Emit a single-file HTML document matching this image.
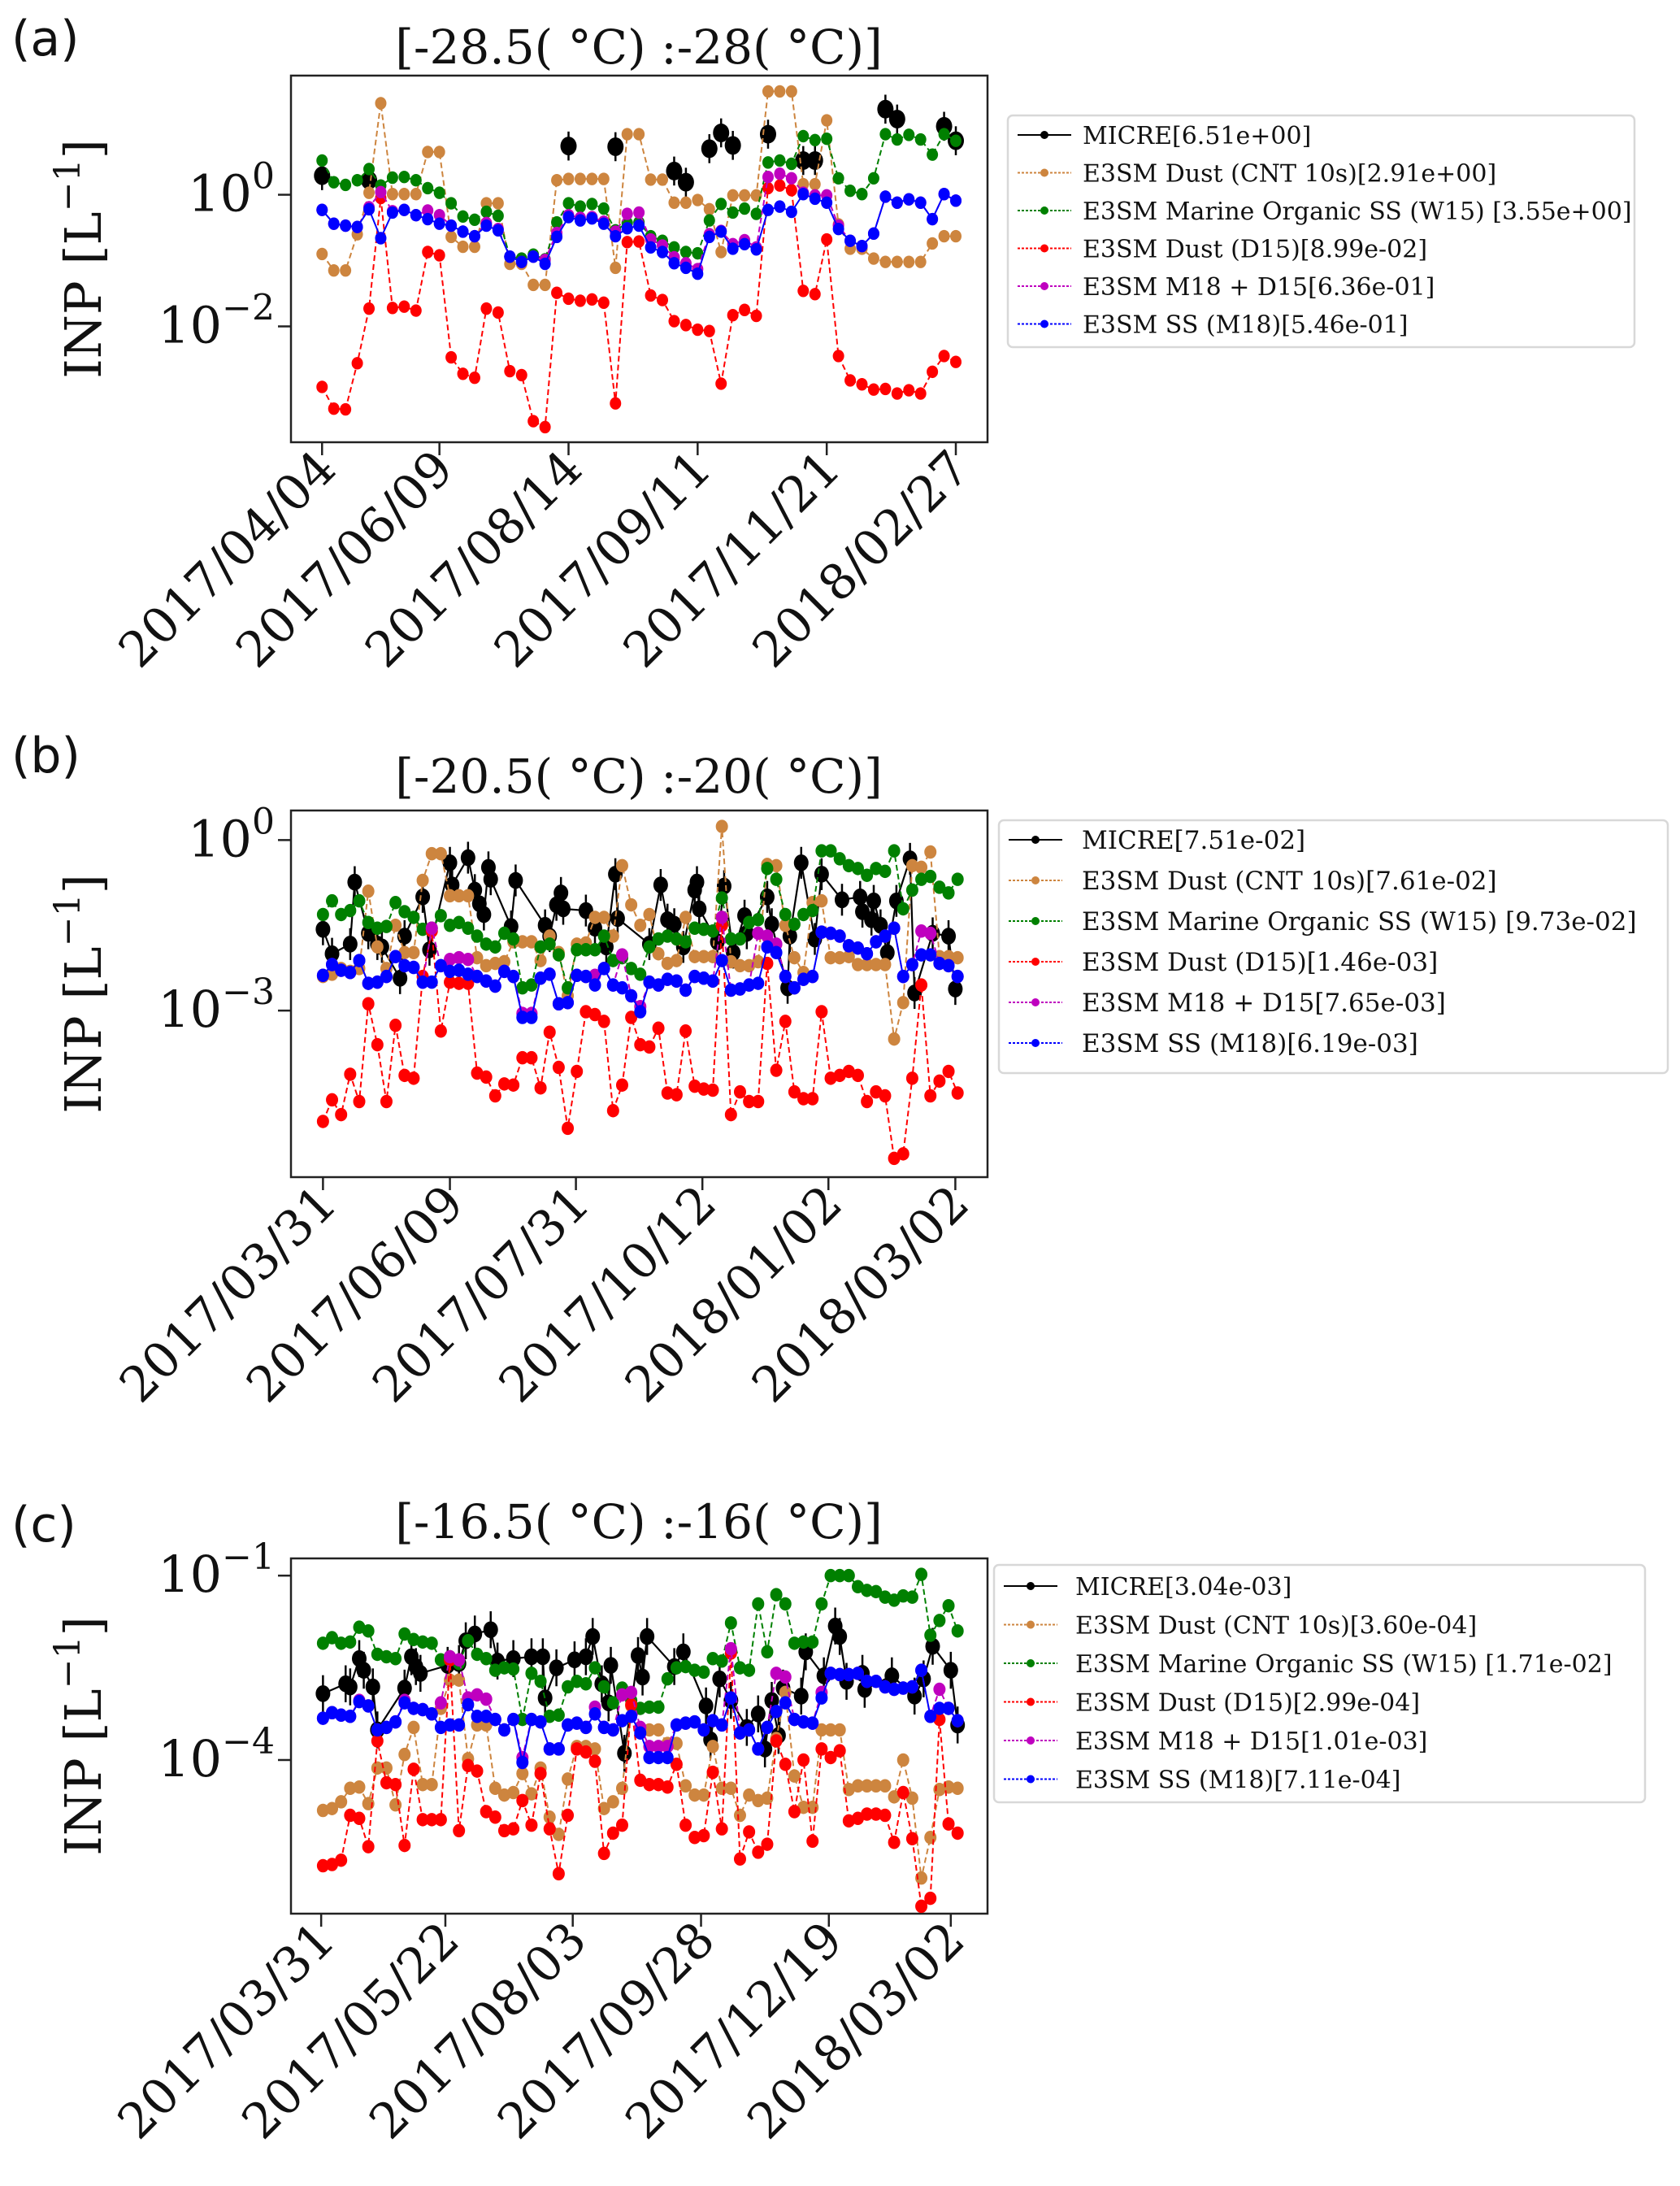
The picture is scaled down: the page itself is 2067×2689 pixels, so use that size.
<!DOCTYPE html>
<html><head><meta charset="utf-8"><style>
html,body{margin:0;padding:0;background:#fff;}
svg{display:block;font-family:"DejaVu Serif","Liberation Serif",serif;}
</style></head><body>
<svg id="fig" width="2067" height="2689" viewBox="0 0 2067 2689" xmlns="http://www.w3.org/2000/svg"></svg>
<script>
// ---------- Panel (a) data: log10(INP [L^-1]) per sample index ----------
const aTickIdx=[0,10,21,32,43,54];
const aTickLabels=["2017/04/04","2017/06/09","2017/08/14","2017/09/11","2017/11/21","2018/02/27"];
const aOrange=[-0.90,-1.15,-1.15,-0.60,0.03,1.39,0.01,0.01,0.01,0.65,0.65,-0.64,-0.79,-0.79,-0.13,-0.13,-1.05,-1.05,-1.37,-1.37,0.22,0.24,0.24,0.24,0.24,-1.11,0.92,0.92,0.23,0.23,-0.12,-0.12,-0.08,-0.22,-0.87,-0.01,-0.01,-0.01,1.57,1.57,1.57,0.16,0.16,1.13,-0.45,-0.82,-0.82,-0.97,-1.02,-1.02,-1.02,-1.02,-0.74,-0.63,-0.63];
const aGreen=[0.52,0.19,0.15,0.22,0.39,0.14,0.26,0.27,0.22,0.10,0.03,-0.13,-0.33,-0.38,-0.26,-0.32,-0.94,-0.97,-0.91,-0.98,-0.42,-0.13,-0.18,-0.14,-0.21,-0.54,-0.43,-0.42,-0.63,-0.70,-0.80,-0.87,-0.89,-0.39,-0.14,-0.27,-0.21,-0.29,0.49,0.52,0.47,0.89,0.83,0.85,0.25,0.06,0.01,0.25,0.92,0.84,0.91,0.84,0.61,0.92,0.82];
const aRed=[-2.92,-3.25,-3.26,-2.56,-1.73,-0.05,-1.72,-1.70,-1.76,-0.87,-0.92,-2.47,-2.72,-2.78,-1.73,-1.79,-2.68,-2.74,-3.44,-3.53,-1.49,-1.58,-1.61,-1.59,-1.64,-3.17,-0.72,-0.71,-1.53,-1.60,-1.92,-1.98,-2.05,-2.07,-2.87,-1.83,-1.75,-1.84,0.10,0.14,0.07,-1.46,-1.51,-0.68,-2.45,-2.82,-2.88,-2.96,-2.95,-3.02,-2.97,-3.02,-2.69,-2.45,-2.54];
const aMagenta=[-0.23,-0.44,-0.47,-0.49,-0.19,0.04,-0.25,-0.23,-0.31,-0.24,-0.31,-0.47,-0.56,-0.63,-0.43,-0.52,-0.94,-1.02,-0.94,-0.99,-0.58,-0.31,-0.35,-0.34,-0.41,-0.56,-0.29,-0.27,-0.68,-0.77,-0.95,-1.04,-1.13,-0.60,-0.55,-0.75,-0.69,-0.80,0.27,0.32,0.25,0.03,-0.01,-0.01,-0.47,-0.70,-0.78,-0.59,-0.03,-0.12,-0.07,-0.12,-0.37,0.01,-0.09];
const aBlue=[-0.23,-0.44,-0.47,-0.49,-0.22,-0.66,-0.27,-0.23,-0.31,-0.37,-0.44,-0.47,-0.56,-0.63,-0.47,-0.54,-0.94,-1.02,-0.94,-1.05,-0.64,-0.34,-0.39,-0.36,-0.44,-0.63,-0.51,-0.47,-0.80,-0.87,-1.04,-1.11,-1.20,-0.64,-0.56,-0.82,-0.75,-0.83,-0.23,-0.18,-0.26,0.01,-0.06,-0.12,-0.52,-0.70,-0.78,-0.59,-0.03,-0.12,-0.07,-0.12,-0.37,0.01,-0.09];
const aMicreIdx=[0,4,21,25,30,31,33,34,35,38,41,42,48,49,53,54];
const aMicre=[0.29,0.22,0.74,0.73,0.36,0.19,0.70,0.94,0.75,0.92,0.52,0.52,1.30,1.15,1.04,0.82];
const aLegend=["MICRE[6.51e+00]","E3SM Dust (CNT 10s)[2.91e+00]","E3SM Marine Organic SS (W15) [3.55e+00]","E3SM Dust (D15)[8.99e-02]","E3SM M18 + D15[6.36e-01]","E3SM SS (M18)[5.46e-01]"];

// ---------- Panel (b) data ----------
const bTickIdx=[0,14,27.9,41.85,55.75,69.75];
const bTickLabels=["2017/03/31","2017/06/09","2017/07/31","2017/10/12","2018/01/02","2018/03/02"];
const bOrange=[-2.40,-2.36,-2.26,-2.31,-2.26,-0.90,-1.88,-2.26,-1.50,-1.98,-1.98,-0.71,-0.24,-0.24,-0.98,-0.98,-0.98,-2.07,-2.21,-2.17,-2.14,-1.79,-1.79,-1.79,-2.12,-1.69,-1.98,-2.74,-1.83,-1.81,-1.36,-1.36,-1.69,-0.45,-1.14,-1.50,-1.31,-2.00,-2.17,-2.12,-1.36,-2.05,-2.05,-2.05,0.24,-2.14,-2.21,-2.21,-2.14,-0.43,-0.45,-1.50,-2.07,-2.33,-1.10,-1.07,-2.07,-2.07,-2.05,-2.19,-2.19,-2.19,-2.19,-3.50,-2.86,-0.45,-0.48,-0.21,-2.05,-2.05,-2.07];
const bGreen=[-1.31,-1.07,-1.31,-1.24,-1.07,-1.45,-1.55,-1.52,-1.10,-1.26,-1.36,-1.57,-1.55,-1.33,-1.50,-1.45,-1.55,-1.69,-1.83,-1.88,-1.64,-1.74,-2.60,-2.55,-1.88,-1.83,-2.02,-2.60,-1.93,-1.93,-1.93,-1.69,-2.12,-2.07,-2.26,-2.36,-1.88,-1.74,-1.69,-1.74,-1.79,-1.55,-1.57,-1.60,-1.02,-1.74,-1.74,-1.45,-1.40,-0.50,-0.69,-1.31,-1.48,-1.31,-1.24,-0.19,-0.19,-0.33,-0.45,-0.50,-0.62,-0.50,-0.55,-0.19,-1.21,-0.88,-0.69,-0.64,-0.83,-0.93,-0.69];
const bRed=[-4.95,-4.57,-4.83,-4.12,-4.60,-2.88,-3.60,-4.60,-3.26,-4.14,-4.19,-2.40,-1.60,-3.36,-2.50,-2.52,-2.52,-4.10,-4.17,-4.50,-4.29,-4.31,-3.83,-3.83,-4.36,-3.38,-4.00,-5.07,-4.07,-3.02,-3.07,-3.19,-4.76,-4.31,-3.12,-3.60,-3.64,-3.31,-4.45,-4.48,-3.36,-4.33,-4.38,-4.40,-1.50,-4.83,-4.43,-4.60,-4.60,-2.17,-4.05,-3.19,-4.43,-4.55,-4.55,-3.02,-4.19,-4.14,-4.07,-4.14,-4.60,-4.43,-4.50,-5.60,-5.52,-4.19,-2.55,-4.50,-4.24,-4.07,-4.45];
const bMagenta=[-2.38,-2.19,-2.29,-2.33,-2.12,-2.52,-2.50,-2.40,-2.05,-2.21,-2.24,-2.50,-1.55,-2.21,-2.10,-2.07,-2.10,-2.40,-2.48,-2.57,-2.31,-2.40,-3.05,-3.05,-2.43,-2.36,-2.88,-2.86,-2.38,-2.40,-2.38,-2.26,-2.55,-2.02,-2.74,-2.93,-2.50,-2.55,-2.45,-2.48,-2.64,-2.40,-2.43,-2.48,-1.36,-2.64,-2.62,-2.55,-1.64,-1.69,-1.83,-2.40,-2.60,-2.45,-2.40,-1.62,-1.64,-1.69,-1.86,-1.90,-2.00,-1.79,-1.69,-1.55,-2.40,-2.19,-1.60,-1.64,-2.17,-2.21,-2.40];
const bBlue=[-2.38,-2.19,-2.29,-2.33,-2.12,-2.52,-2.50,-2.40,-2.05,-2.21,-2.24,-2.50,-2.50,-2.21,-2.31,-2.29,-2.36,-2.40,-2.48,-2.57,-2.31,-2.40,-3.12,-3.12,-2.43,-2.36,-2.88,-2.86,-2.38,-2.40,-2.55,-2.26,-2.55,-2.60,-2.74,-3.02,-2.50,-2.55,-2.45,-2.48,-2.64,-2.40,-2.43,-2.48,-2.12,-2.64,-2.62,-2.55,-2.52,-1.88,-1.98,-2.40,-2.60,-2.45,-2.40,-1.62,-1.64,-1.69,-1.86,-1.90,-2.00,-1.79,-1.69,-1.55,-2.40,-2.19,-2.02,-2.02,-2.17,-2.21,-2.40];
const bMicreIdx=[0,1,3,3.5,5,6,6.5,8.5,9,11,11.75,14,14.25,16,16.75,17.25,17.75,18.25,18.5,20.75,21.25,24.5,25,25.75,26.25,26.5,29,30,31.25,32.25,32.5,36,37.25,38,38.75,39.75,41,41.25,41.5,43.5,44.25,45.25,46.5,46.75,49,49.5,51.25,51.5,52.75,54.25,55,57.25,59.25,59.5,60.5,60.75,61.5,62.25,63.25,64.75,65.25,67.25,69,69.75];
const bMicre=[-1.57,-2.00,-1.83,-0.74,-1.64,-1.83,-1.88,-2.43,-1.69,-1.00,-1.93,-0.40,-0.79,-0.31,-0.88,-1.12,-1.31,-0.48,-0.69,-1.52,-0.71,-1.50,-1.69,-1.14,-0.93,-1.21,-1.24,-1.55,-1.88,-0.60,-1.38,-1.83,-0.79,-1.40,-1.48,-1.88,-0.88,-0.74,-1.21,-1.79,-0.81,-1.98,-1.33,-1.64,-1.00,-1.48,-2.60,-1.69,-0.40,-1.74,-0.60,-1.05,-1.00,-1.26,-1.40,-1.07,-1.50,-1.98,-1.07,-0.33,-2.69,-1.64,-1.69,-2.62];
const bLegend=["MICRE[7.51e-02]","E3SM Dust (CNT 10s)[7.61e-02]","E3SM Marine Organic SS (W15) [9.73e-02]","E3SM Dust (D15)[1.46e-03]","E3SM M18 + D15[7.65e-03]","E3SM SS (M18)[6.19e-03]"];

// ---------- Panel (c) data ----------
const cTickIdx=[-0.2,13.5,27.55,41.7,55.8,69.25];
const cTickLabels=["2017/03/31","2017/05/22","2017/08/03","2017/09/28","2017/12/19","2018/03/02"];
const cOrange=[-4.82,-4.79,-4.68,-4.46,-4.44,-4.71,-4.13,-4.13,-4.73,-3.91,-3.47,-4.40,-4.40,-3.16,-2.70,-2.70,-3.98,-3.43,-3.43,-4.46,-4.57,-4.53,-4.22,-4.55,-4.13,-4.93,-5.21,-4.31,-3.78,-3.78,-3.82,-4.79,-4.68,-4.46,-3.12,-3.51,-3.51,-3.51,-3.73,-3.73,-4.42,-4.57,-4.57,-3.78,-4.46,-4.46,-4.90,-4.57,-4.66,-4.62,-3.65,-2.90,-4.26,-4.77,-4.77,-3.51,-3.51,-3.51,-4.48,-4.42,-4.42,-4.42,-4.42,-4.60,-4.00,-4.62,-5.92,-5.26,-4.48,-4.44,-4.46];
const cGreen=[-2.10,-2.01,-2.10,-2.08,-1.84,-1.90,-2.28,-2.32,-2.35,-1.95,-2.04,-2.08,-2.10,-2.37,-2.32,-2.43,-2.06,-2.28,-2.35,-2.54,-2.50,-2.52,-3.34,-2.59,-2.72,-3.29,-3.27,-2.81,-2.72,-2.76,-2.50,-2.81,-3.07,-2.83,-3.03,-3.16,-3.14,-3.14,-2.68,-2.50,-2.48,-2.54,-2.57,-2.35,-2.39,-1.77,-2.50,-2.54,-1.46,-2.24,-1.31,-1.46,-2.10,-2.08,-2.08,-1.46,-1.00,-1.00,-1.00,-1.18,-1.24,-1.26,-1.35,-1.40,-1.33,-1.35,-0.98,-1.97,-1.73,-1.49,-1.90];
const cRed=[-5.72,-5.70,-5.63,-4.90,-4.95,-5.41,-3.69,-4.37,-4.40,-5.39,-4.15,-4.97,-4.97,-4.97,-2.37,-5.15,-4.09,-4.18,-4.84,-4.93,-5.15,-5.12,-4.66,-5.06,-4.22,-5.12,-5.85,-4.90,-3.82,-3.87,-4.02,-5.52,-5.19,-5.06,-3.10,-4.33,-4.40,-4.40,-4.44,-4.07,-5.06,-5.26,-5.23,-4.20,-5.12,-2.26,-5.61,-5.17,-5.50,-5.37,-3.69,-4.07,-4.84,-4.00,-5.32,-3.82,-3.96,-3.85,-4.99,-4.95,-4.88,-4.88,-4.90,-5.34,-4.53,-5.28,-6.38,-6.25,-3.34,-5.04,-5.19];
const cMagenta=[-3.32,-3.23,-3.27,-3.29,-3.03,-3.12,-3.51,-3.47,-3.38,-3.03,-3.16,-3.18,-3.25,-3.07,-2.32,-2.37,-2.99,-2.94,-3.01,-3.34,-3.51,-3.34,-3.96,-3.34,-3.38,-3.82,-3.82,-3.43,-3.40,-3.47,-3.14,-3.47,-3.51,-2.94,-2.90,-3.47,-3.78,-3.78,-3.78,-3.43,-3.40,-3.38,-3.51,-3.36,-3.43,-2.19,-3.56,-3.51,-3.82,-3.47,-2.59,-2.65,-3.34,-3.38,-3.40,-2.90,-2.59,-2.61,-2.61,-2.59,-2.72,-2.72,-2.81,-2.85,-2.83,-2.81,-2.54,-3.29,-2.85,-3.16,-3.36];
const cBlue=[-3.32,-3.23,-3.27,-3.29,-3.05,-3.12,-3.51,-3.47,-3.38,-3.07,-3.16,-3.18,-3.25,-3.47,-3.43,-3.43,-3.10,-3.29,-3.29,-3.34,-3.51,-3.34,-4.04,-3.34,-3.38,-3.82,-3.82,-3.43,-3.40,-3.47,-3.25,-3.47,-3.51,-3.36,-3.29,-3.56,-3.96,-3.96,-3.96,-3.43,-3.40,-3.38,-3.51,-3.36,-3.43,-2.99,-3.56,-3.51,-3.82,-3.47,-3.21,-3.07,-3.34,-3.38,-3.40,-2.99,-2.59,-2.61,-2.61,-2.59,-2.72,-2.72,-2.81,-2.85,-2.83,-2.81,-2.54,-3.29,-3.16,-3.16,-3.36];
const cMicreIdx=[0,2.5,3,4,4.5,5.5,6,9,9.75,10.25,10.75,13.75,15,15.75,16.75,18.5,19.25,21,23,24.25,24.5,25.75,27.75,29,29.75,30.75,31.5,31.75,33.25,34.75,35.25,35.75,38.75,39.75,42.25,42.75,43.75,45,46.75,48,48.75,49.5,50.25,50.75,52.75,53.25,55.25,56.5,57,57.75,59.5,59.75,62.75,65.25,66.25,67.25,69.25,70];
const cMicre=[-2.92,-2.76,-2.81,-2.35,-2.54,-2.81,-3.51,-2.83,-2.32,-2.48,-2.59,-2.46,-2.43,-2.06,-1.95,-1.88,-2.39,-2.35,-2.32,-2.32,-2.99,-2.50,-2.37,-2.32,-1.99,-2.76,-3.07,-2.46,-3.89,-2.30,-2.65,-1.99,-2.48,-2.24,-3.12,-3.67,-2.68,-3.03,-3.47,-3.25,-3.82,-3.03,-3.60,-2.83,-2.96,-2.24,-2.63,-1.82,-1.99,-2.72,-2.59,-2.85,-2.63,-2.96,-2.68,-2.15,-2.54,-3.43];
const cLegend=["MICRE[3.04e-03]","E3SM Dust (CNT 10s)[3.60e-04]","E3SM Marine Organic SS (W15) [1.71e-02]","E3SM Dust (D15)[2.99e-04]","E3SM M18 + D15[1.01e-03]","E3SM SS (M18)[7.11e-04]"];

const svg=document.getElementById('fig');
const NS='http://www.w3.org/2000/svg';
function mk(tag,attrs,parent){const e=document.createElementNS(NS,tag);for(const k in attrs)e.setAttribute(k,attrs[k]);(parent||svg).appendChild(e);return e;}
const COLORS={micre:'#000000',orange:'#cd853f',green:'#008000',red:'#ff0000',magenta:'#bf00bf',blue:'#0000ff'};

function panel(cfg){
  const g=mk('g',{});
  
  
  const L=358,R=1215,T=cfg.top,B=cfg.bottom;
  const xs=v=>L+(v-cfg.xmin)/(cfg.xmax-cfg.xmin)*(R-L);
  const ys=v=>T+(cfg.ymax-v)/(cfg.ymax-cfg.ymin)*(B-T);
  const lab=mk('text',{x:14,y:cfg.labelY,'font-size':60,'font-family':'DejaVu Sans, Liberation Sans, sans-serif',fill:'#111'},g);
  lab.textContent='('+cfg.id+')';
  
  
  const ti=mk('text',{x:786,y:cfg.titleY,'font-size':58,'text-anchor':'middle',fill:'#111','font-family':'DejaVu Serif, Liberation Serif, serif'},g);
  ti.textContent=cfg.title;
  
  
  const fr=mk('rect',{x:L,y:T,width:R-L,height:B-T,fill:'#fff',stroke:'#222','stroke-width':2.5},g);
  
  
  cfg.yticks.forEach((v)=>{
    const y=ys(v);
    mk('line',{x1:L-16,x2:L,y1:y,y2:y,stroke:'#222','stroke-width':2.5},g);
    const t=mk('text',{x:L-20,y:y+20,'font-size':62,'text-anchor':'end',fill:'#111'},g);
    
    
    const a=mk('tspan',{},t);a.textContent='10';
    const s=mk('tspan',{dy:-28,'font-size':44},t);s.textContent=(v<0?'\u2212':'')+Math.abs(v);
  });
  const yl=mk('text',{x:0,y:0,'font-size':62,'text-anchor':'middle',fill:'#111',transform:`translate(124,${(T+B)/2}) rotate(-90)`},g);
  
  
  const y1=mk('tspan',{},yl);y1.textContent='INP [L';
  const y2=mk('tspan',{dy:-26,'font-size':44},yl);y2.textContent='\u22121';
  const y3=mk('tspan',{dy:26},yl);y3.textContent=']';
  cfg.xticks.forEach((v,i)=>{
    const x=xs(v);
    mk('line',{x1:x,x2:x,y1:B,y2:B+16,stroke:'#222','stroke-width':2.5},g);
    const t=mk('text',{x:0,y:0,'font-size':60,'text-anchor':'end',fill:'#111',transform:`translate(${x+20},${B+36}) rotate(-45)`},g);
    t.textContent=cfg.xlabels[i];
    
    
  });
  const clip=mk('clipPath',{id:'clip'+cfg.id},g);
  mk('rect',{x:L,y:T,width:R-L,height:B-T},clip);
  const pg=mk('g',{'clip-path':`url(#clip${cfg.id})`},g);
  const mg=mk('g',{},pg);
  
  
  if(cfg.micreLine){
    mk('path',{d:cfg.micreIdx.map((v,i)=>(i?'L':'M')+xs(v)+','+ys(cfg.micre[i])).join(''),fill:'none',stroke:'#000','stroke-width':2.2},mg);
  }
  cfg.micreIdx.forEach((v,i)=>{
    const x=xs(v),y=ys(cfg.micre[i]);
    mk('line',{x1:x,x2:x,y1:ys(cfg.micre[i]+cfg.err),y2:ys(cfg.micre[i]-cfg.err),stroke:'#000','stroke-width':2.5},mg);
    const c=mk('ellipse',{cx:x,cy:y,rx:cfg.rb,ry:cfg.rb*1.15,fill:'#000'},mg);
    
    
  });
  const series=[['orange',cfg.orange],['green',cfg.green],['red',cfg.red],['magenta',cfg.magenta],['blue',cfg.blue]];
  series.forEach(([name,vals])=>{
    const sg=mk('g',{},pg);
    
    
    mk('path',{d:vals.map((v,i)=>(i?'L':'M')+xs(i)+','+ys(v)).join(''),fill:'none',stroke:COLORS[name],'stroke-width':2,'stroke-dasharray':name==='blue'?'none':'7,4'},sg);
    vals.forEach((v,i)=>{
      const c=mk('ellipse',{cx:xs(i),cy:ys(v),rx:cfg.r,ry:cfg.r*1.1,fill:COLORS[name]},sg);
      
      
    });
  });
  const lg=mk('g',{},g);
  
  
  const lb=cfg.legendBox;
  mk('rect',{x:lb[0],y:lb[1],width:lb[2]-lb[0],height:lb[3]-lb[1],rx:6,fill:'#fff',stroke:'#d8d8d8','stroke-width':2.5},lg);
  const cols=['micre','orange','green','red','magenta','blue'];
  cfg.legend.forEach((txt,i)=>{
    const y=lb[1]+cfg.legendFirst+i*cfg.legendStep;
    const e=mk('g',{},lg);
    
    
    mk('line',{x1:lb[0]+12,x2:lb[0]+78,y1:y,y2:y,stroke:COLORS[cols[i]],'stroke-width':2,'stroke-dasharray':i===0?'none':'3,2'},e);
    mk('circle',{cx:lb[0]+45,cy:y,r:5,fill:COLORS[cols[i]]},e);
    const t=mk('text',{x:lb[0]+cfg.legendTextX,y:y+11,'font-size':cfg.legendFont,fill:'#111'},e);
    t.textContent=txt;
  });
}

panel({id:'a',top:93,bottom:544,xmin:-2.65,xmax:56.7,ymax:1.81,ymin:-3.76,labelY:68,titleY:78,
  title:'[-28.5( \u00b0C) :-28( \u00b0C)]',yticks:[0,-2],xticks:aTickIdx,xlabels:aTickLabels,
  orange:aOrange,green:aGreen,red:aRed,magenta:aMagenta,blue:aBlue,micreIdx:aMicreIdx,micre:aMicre,micreLine:false,err:0.22,r:7,rb:10,
  legend:aLegend,legendBox:[1240,142,2011,427],legendFirst:24,legendStep:46.5,legendTextX:92,legendFont:30});
panel({id:'b',top:997,bottom:1448,xmin:-3.53,xmax:73.3,ymax:0.52,ymin:-5.93,labelY:950,titleY:975,
  title:'[-20.5( \u00b0C) :-20( \u00b0C)]',yticks:[0,-3],xticks:bTickIdx,xlabels:bTickLabels,
  orange:bOrange,green:bGreen,red:bRed,magenta:bMagenta,blue:bBlue,micreIdx:bMicreIdx,micre:bMicre,micreLine:true,err:0.28,r:7.5,rb:9,
  legend:bLegend,legendBox:[1229,1009,2052,1320],legendFirst:24,legendStep:50,legendTextX:102,legendFont:31});
panel({id:'c',top:1917,bottom:2354,xmin:-3.53,xmax:73.3,ymax:-0.72,ymin:-6.50,labelY:1896,titleY:1892,
  title:'[-16.5( \u00b0C) :-16( \u00b0C)]',yticks:[-1,-4],xticks:cTickIdx,xlabels:cTickLabels,
  orange:cOrange,green:cGreen,red:cRed,magenta:cMagenta,blue:cBlue,micreIdx:cMicreIdx,micre:cMicre,micreLine:true,err:0.3,r:7.5,rb:9,
  legend:cLegend,legendBox:[1223,1925,2024,2217],legendFirst:26,legendStep:47.5,legendTextX:100,legendFont:30});
</script>
</body></html>
